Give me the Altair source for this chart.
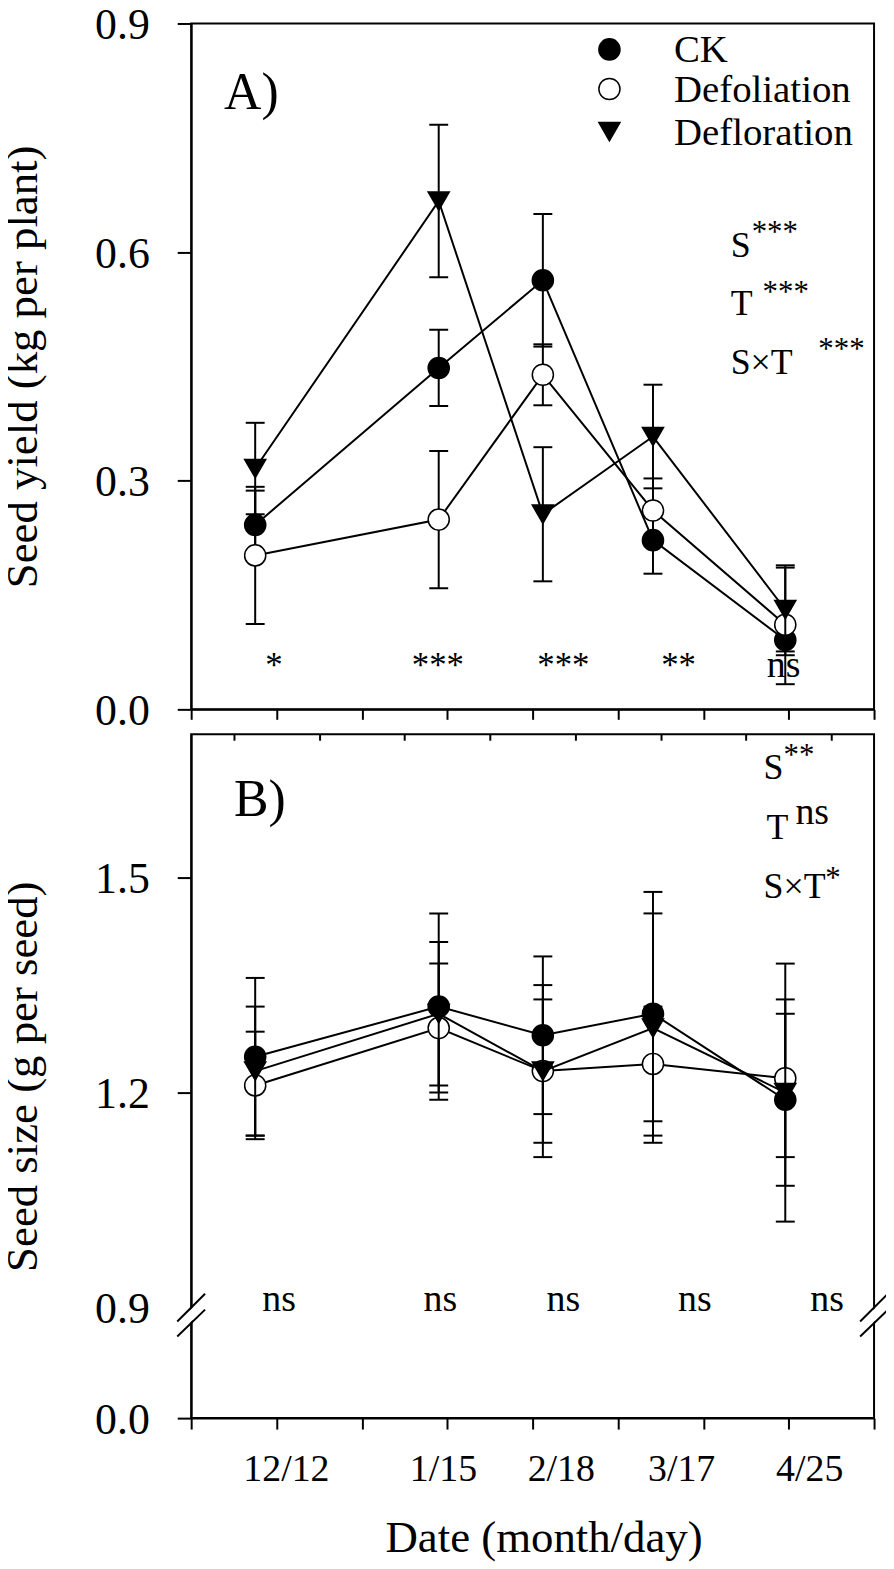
import altair as alt
import pandas as pd

FONT = "Liberation Serif"

# ---------------- data ----------------
dates = ["12/12", "1/15", "2/18", "3/17", "4/25"]
date_pos = [0.75, 2.90, 4.12, 5.41, 6.96]          # x position of each date (axis units)
date_label_pos = [1.11, 2.95, 4.33, 5.74, 7.24]    # where the date labels sit
series = ["CK", "Defoliation", "Defloration"]

yield_ck = [0.242, 0.448, 0.563, 0.222, 0.091]
yield_ck_err = [0.045, 0.050, 0.087, 0.044, 0.020]
yield_defol = [0.202, 0.249, 0.439, 0.261, 0.111]
yield_defol_err = [0.090, 0.090, 0.040, 0.042, 0.078]
yield_deflo = [0.316, 0.667, 0.256, 0.358, 0.131]
yield_deflo_err = [0.060, 0.100, 0.088, 0.068, 0.055]

size_ck = [1.25, 1.32, 1.28, 1.31, 1.19]
size_ck_err = [0.11, 0.13, 0.11, 0.17, 0.12]
size_defol = [1.21, 1.29, 1.23, 1.24, 1.22]
size_defol_err = [0.075, 0.090, 0.120, 0.080, 0.110]
size_deflo = [1.23, 1.31, 1.23, 1.29, 1.20]
size_deflo_err = [0.09, 0.10, 0.10, 0.16, 0.18]

sig_yield = ["*", "***", "***", "**", "ns"]
sig_yield_x = [0.97, 2.89, 4.36, 5.71, 6.94]
sig_size = ["ns", "ns", "ns", "ns", "ns"]
sig_size_x = [1.03, 2.92, 4.36, 5.90, 7.45]

stats_a_text = ["S", "***", "T", "***", "S×T", "***"]
stats_a_x = [6.32, 6.566, 6.32, 6.694, 6.32, 7.347]
stats_a_y = [0.594, 0.613, 0.517, 0.534, 0.440, 0.460]
stats_a_fs = [36, 31, 36, 31, 36, 31]

stats_b_text = ["S", "**", "T", "ns", "S×T", "*"]
stats_b_x = [6.706, 6.939, 6.741, 7.079, 6.706, 7.429]
stats_b_y = [1.6375, 1.657, 1.554, 1.575, 1.472, 1.486]
stats_b_fs = [36, 31, 36, 38, 36, 31]

# legend entries (drawn inside panel A)
legend_sym_x = [4.90, 4.90, 4.90]
legend_sym_y = [0.866, 0.814, 0.758]
legend_text_x = [5.656, 5.656, 5.656]
legend_text_y = [0.850, 0.797, 0.740]

shapes = ["circle", "circle", "triangle-down"]
fills = ["black", "white", "black"]
sym_sizes = [450, 450, 600]


def long_table(means, errs):
    rows = []
    for s, m, e in zip(series, means, errs):
        for d, x, mv, ev in zip(dates, date_pos, m, e):
            rows.append(dict(series=s, date=d, x=x, mean=mv, lo=mv - ev, hi=mv + ev))
    return pd.DataFrame(rows)


df_yield = long_table([yield_ck, yield_defol, yield_deflo],
                      [yield_ck_err, yield_defol_err, yield_deflo_err])
df_size = long_table([size_ck, size_defol, size_deflo],
                     [size_ck_err, size_defol_err, size_deflo_err])

X_SCALE = alt.Scale(domain=[0, 8], nice=False, zero=False)
W = 686
HA = 689
HB = 687
Y_SCALE_A = alt.Scale(domain=[0, 0.9], nice=False, zero=False)
Y_SCALE_B = alt.Scale(domain=[0, 0.9, 1.7], range=[HB, 576, 0], nice=False, zero=False)
SHAPE_SCALE = alt.Scale(domain=series, range=shapes)
FILL_SCALE = alt.Scale(domain=series, range=fills)
SIZE_SCALE = alt.Scale(domain=series, range=sym_sizes)

tick_vals = list(range(9))

x_axis_a = alt.Axis(values=tick_vals, labels=False, tickSize=10, title=None, zindex=0)

label_list = "[" + ",".join(repr(v) for v in date_label_pos) + "]"
name_list = "[" + ",".join("'" + d + "'" for d in dates) + "]"
x_axis_b = alt.Axis(
    values=tick_vals + date_label_pos,
    tickSize=11,
    tickOpacity={"condition": {"test": "datum.value % 1 === 0", "value": 1}, "value": 0},
    labelExpr=f"indexof({label_list}, datum.value) >= 0 ? {name_list}[indexof({label_list}, datum.value)] : ''",
    labelFontSize=38, labelPadding=22, labelOverlap=False, labelFlush=False,
    title="Date (month/day)", titleX=354, titleY=134, titleBaseline="alphabetic",
    zindex=0,
)
x_axis_b_top = alt.Axis(orient="top", values=[i + 0.5 for i in range(8)], labels=False,
                        domain=False, tickSize=6, offset=-6, title=None, zindex=0)

y_axis_a = alt.Axis(values=[0, 0.3, 0.6, 0.9], format=".1f", tickSize=14, labelPadding=28,
                    labelOffset=2,
                    title="Seed yield (kg per plant)", titleX=-155, titleBaseline="alphabetic",
                    zindex=0)
y_axis_b = alt.Axis(values=[0, 0.9, 1.2, 1.5], format=".1f", tickSize=14, labelPadding=28,
                    labelOffset=2,
                    tickOpacity={"condition": {"test": "datum.value === 0.9", "value": 0}, "value": 1},
                    title="Seed size (g per seed)", titleX=-155, titleBaseline="alphabetic",
                    zindex=0)


def series_layers(df, yscale, xaxis, yaxis):
    layers = []
    x = alt.X("x:Q", scale=X_SCALE, axis=xaxis)
    for s in series:
        base = alt.Chart(df).transform_filter(alt.datum.series == s)
        line = base.mark_line(color="black", strokeWidth=2).encode(
            x=x, y=alt.Y("mean:Q", scale=yscale, axis=yaxis), order="x:Q")
        bar = base.mark_rule(color="black", strokeWidth=2).encode(
            x=x, y=alt.Y("lo:Q", scale=yscale, axis=yaxis), y2="hi:Q")
        caps = base.transform_fold(["lo", "hi"], as_=["end", "val"]).mark_tick(
            orient="horizontal", size=19, thickness=2, color="black", opacity=1).encode(
            x=x, y=alt.Y("val:Q", scale=yscale, axis=yaxis))
        pts = base.mark_point(filled=True, stroke="black", strokeWidth=1.5, opacity=1).encode(
            x=x, y=alt.Y("mean:Q", scale=yscale, axis=yaxis),
            shape=alt.Shape("series:N", scale=SHAPE_SCALE, legend=None),
            fill=alt.Fill("series:N", scale=FILL_SCALE, legend=None),
            size=alt.Size("series:N", scale=SIZE_SCALE, legend=None),
        )
        layers += [line, bar, caps, pts]
    return layers


def text_layer(texts, xs, ys, fss, yscale, xaxis, yaxis, align="left"):
    d = pd.DataFrame({"t": texts, "x": xs, "y": ys, "fs": fss})
    return alt.Chart(d).mark_text(font=FONT, color="black", align=align, baseline="alphabetic").encode(
        x=alt.X("x:Q", scale=X_SCALE, axis=xaxis),
        y=alt.Y("y:Q", scale=yscale, axis=yaxis),
        text="t:N",
        size=alt.Size("fs:Q", scale=None, legend=None),
    )


# ---------------- panel A ----------------
layers_a = series_layers(df_yield, Y_SCALE_A, x_axis_a, y_axis_a)
layers_a.append(text_layer(sig_yield, sig_yield_x, [0.043] * 5,
                           [35, 35, 35, 35, 38], Y_SCALE_A, x_axis_a, y_axis_a, align="center"))
layers_a.append(text_layer(stats_a_text, stats_a_x, stats_a_y, stats_a_fs,
                           Y_SCALE_A, x_axis_a, y_axis_a))
layers_a.append(text_layer(["A)"], [0.385], [0.788], [52], Y_SCALE_A, x_axis_a, y_axis_a))

# legend
leg = pd.DataFrame({"series": series, "sx": legend_sym_x, "sy": legend_sym_y,
                    "tx": legend_text_x, "ty": legend_text_y})
layers_a.append(alt.Chart(leg).mark_point(filled=True, stroke="black", strokeWidth=1.5,
                                          opacity=1, size=450).encode(
    x=alt.X("sx:Q", scale=X_SCALE, axis=x_axis_a),
    y=alt.Y("sy:Q", scale=Y_SCALE_A, axis=y_axis_a),
    shape=alt.Shape("series:N", scale=SHAPE_SCALE, legend=None),
    fill=alt.Fill("series:N", scale=FILL_SCALE, legend=None)))
layers_a.append(alt.Chart(leg).mark_text(font=FONT, fontSize=39, color="black", align="left",
                                         baseline="alphabetic").encode(
    x=alt.X("tx:Q", scale=X_SCALE, axis=x_axis_a),
    y=alt.Y("ty:Q", scale=Y_SCALE_A, axis=y_axis_a),
    text="series:N"))
panel_a = alt.layer(*layers_a).properties(width=W, height=HA)

# ---------------- panel B ----------------
layers_b = series_layers(df_size, Y_SCALE_B, x_axis_b, y_axis_b)
layers_b.append(text_layer(sig_size, sig_size_x, [0.876] * 5, [38] * 5,
                           Y_SCALE_B, x_axis_b, y_axis_b, align="center"))
layers_b.append(text_layer(stats_b_text, stats_b_x, stats_b_y, stats_b_fs,
                           Y_SCALE_B, x_axis_b, y_axis_b))
layers_b.append(text_layer(["B)"], [0.501], [1.586], [52], Y_SCALE_B, x_axis_b, y_axis_b))

# axis-break marks on both vertical borders
brk = pd.DataFrame({
    "kind": ["gap", "slash", "slash", "gap", "slash", "slash"],
    "x": [-0.163, -0.163, -0.163, 7.837, 7.837, 7.837],
    "x2": [0.163, 0.163, 0.163, 8.163, 8.163, 8.163],
    "y": [0.7257, 0.7865, 0.6649, 0.7257, 0.7865, 0.6649],
    "y2": [0.9083, 0.9194, 0.8838, 0.9083, 0.9194, 0.8838],
})
for kind, col, sw in [("gap", "white", 9), ("slash", "black", 2)]:
    layers_b.append(
        alt.Chart(brk).transform_filter(alt.datum.kind == kind).mark_rule(color=col, strokeWidth=sw).encode(
            x=alt.X("x:Q", scale=X_SCALE, axis=x_axis_b), x2="x2:Q",
            y=alt.Y("y:Q", scale=Y_SCALE_B, axis=y_axis_b), y2="y2:Q"))

inner_b = alt.layer(*layers_b)
top_ticks = alt.Chart(df_size).mark_point(opacity=0).encode(
    x=alt.X("x:Q", scale=X_SCALE, axis=x_axis_b_top),
    y=alt.Y("mean:Q", scale=Y_SCALE_B, axis=y_axis_b))
panel_b = alt.layer(inner_b, top_ticks).resolve_axis(x="independent").properties(width=W, height=HB)

chart = (
    alt.vconcat(panel_a, panel_b, spacing=-4)
    .properties(padding={"left": -8, "top": -9, "right": -8, "bottom": -1})
    .configure_view(stroke="black", strokeWidth=2)
    .configure_axis(grid=False, labelFont=FONT, titleFont=FONT, labelColor="black",
                    titleColor="black", domainColor="black", tickColor="black",
                    domainWidth=2, tickWidth=2, labelFontSize=44, titleFontSize=45,
                    titleFontWeight="normal")
)

chart.save("out.html", embed_options={"renderer": "svg", "actions": False})
